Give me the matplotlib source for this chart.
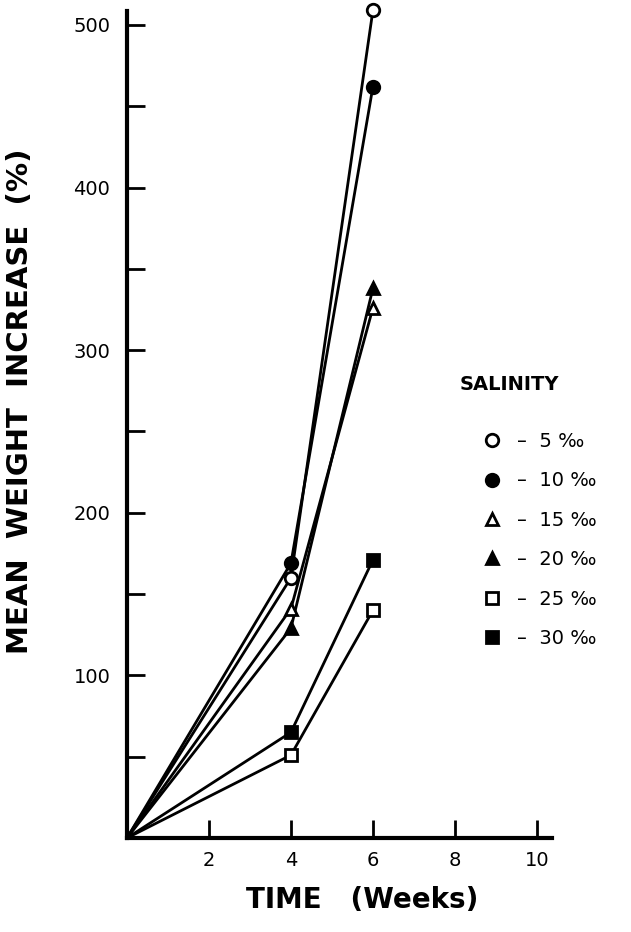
import matplotlib
matplotlib.use("Agg")
import matplotlib.pyplot as plt
from matplotlib.lines import Line2D

# time in weeks
weeks = [0, 4, 6]

# mean weight increase (%) per salinity
sal_labels = ["5 ‰", "10 ‰", "15 ‰", "20 ‰", "25 ‰", "30 ‰"]
s05 = [0, 160, 509]
s10 = [0, 169, 462]
s15 = [0, 141, 326]
s20 = [0, 129, 338]
s25 = [0, 51, 140]
s30 = [0, 65, 171]

series = [s05, s10, s15, s20, s25, s30]
markers = ["o", "o", "^", "^", "s", "s"]
filled = [False, True, False, True, False, True]

fig = plt.figure(figsize=(6.31, 9.32), dpi=100)
ax = fig.add_axes([127 / 631, 94 / 932, 425 / 631, 827 / 932])

for ys, m, f in zip(series, markers, filled):
    ax.plot(weeks, ys, color="black", linewidth=2.0, clip_on=False, zorder=2)
    ax.plot(weeks[1:], ys[1:], linestyle="none", marker=m, markersize=9,
            markerfacecolor="black" if f else "white", markeredgecolor="black",
            markeredgewidth=2.0, clip_on=False, zorder=3)

ax.set_xlim(0, 10.37)
ax.set_ylim(0, 508.6)

for side in ["top", "right"]:
    ax.spines[side].set_visible(False)
for side in ["left", "bottom"]:
    ax.spines[side].set_linewidth(3.0)

ax.set_xticks([2, 4, 6, 8, 10])
ax.set_xticklabels(["2", "4", "6", "8", "10"])
ax.set_yticks([50, 100, 150, 200, 250, 300, 350, 400, 450, 500])
ax.set_yticklabels(["", "100", "", "200", "", "300", "", "400", "", "500"])
ax.tick_params(direction="in", length=13, width=2.0, labelsize=14)
ax.tick_params(axis="x", pad=9)
ax.tick_params(axis="y", pad=12)

fig.text(20 / 631, 1 - 401 / 932, "MEAN  WEIGHT  INCREASE  (%)", rotation=90,
         ha="center", va="center", fontsize=21, fontweight="bold")
fig.text(362 / 631, 1 - 900 / 932, "TIME   (Weeks)", ha="center", va="center",
         fontsize=20, fontweight="bold")

# legend
fig.text(460 / 631, 1 - 385 / 932, "SALINITY", ha="left", va="center",
         fontsize=14, fontweight="semibold")
handles = [Line2D([], [], linestyle="none", marker=m, markersize=9,
                  markerfacecolor="black" if f else "white",
                  markeredgecolor="black", markeredgewidth=2.0)
           for m, f in zip(markers, filled)]
fig.legend(handles, ["–  " + s for s in sal_labels],
           loc="upper left", bbox_to_anchor=(478 / 631, 1 - 432 / 932),
           frameon=False, fontsize=14, borderaxespad=0, borderpad=0,
           labelspacing=1.05, handletextpad=0.6, handlelength=1.4)

fig.savefig("out.png", dpi=100)
